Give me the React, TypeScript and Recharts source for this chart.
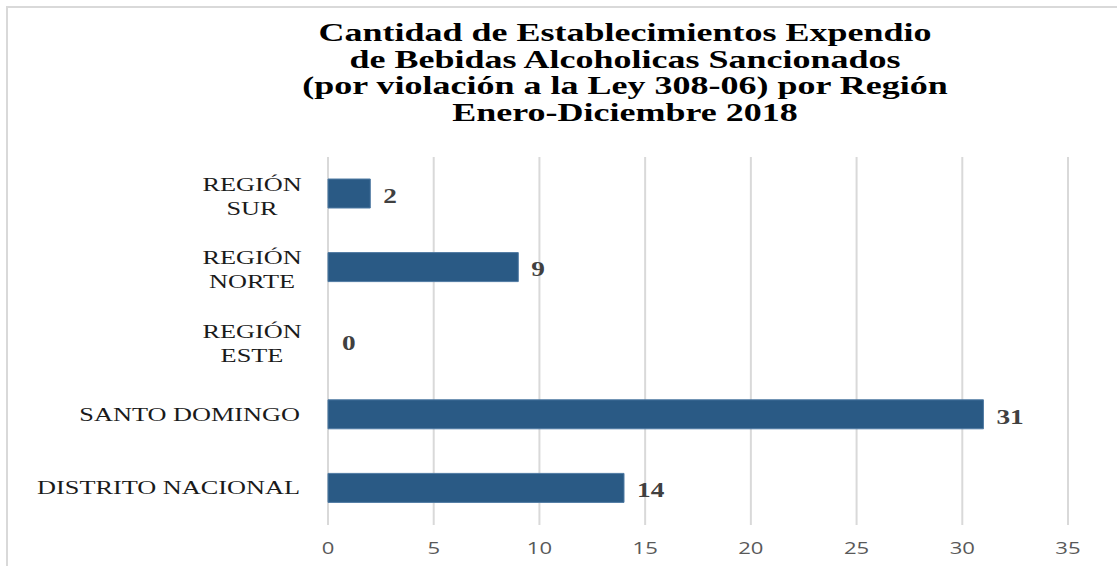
import React from "react";
import { BarChart, Bar, XAxis, YAxis, CartesianGrid, Rectangle } from "recharts";

// the source image is stretched horizontally, so text gets a scaleX too
const SX_TITLE = 1.44;
const SX_CAT = 1.46;
const SX_NUM = 1.3;

const regions = [
  ["REGIÓN", "SUR"],
  ["REGIÓN", "NORTE"],
  ["REGIÓN", "ESTE"],
  ["SANTO DOMINGO"],
  ["DISTRITO NACIONAL"],
];
const sanctioned = [2, 9, 0, 31, 14];
const xTicks = [0, 5, 10, 15, 20, 25, 30, 35];
const titleLines = [
  "Cantidad de Establecimientos Expendio",
  "de Bebidas Alcoholicas Sancionados",
  "(por violación a la Ley 308-06) por Región",
  "Enero-Diciembre 2018",
];

const data = regions.map((lines, i) => ({
  name: lines.join(" "),
  lines,
  value: sanctioned[i],
}));

const W = 1117;
const H = 566;

function CategoryTick(props: any) {
  const { x, y, index } = props;
  const lines: string[] = data[index]?.lines ?? [String(props.payload.value)];
  const right = x - 20;
  if (lines.length === 1) {
    return (
      <text
        transform={`translate(${right},${y}) scale(${SX_CAT},1)`}
        textAnchor="end"
        dominantBaseline="central"
        fontFamily="'Liberation Serif', serif"
        fontSize={18}
        fill="#1a1a1a"
      >
        {lines[0]}
      </text>
    );
  }
  // wrapped labels are centred on the widest line
  const cx = right - 48;
  return (
    <g>
      {lines.map((l, i) => (
        <text
          key={i}
          transform={`translate(${cx},${y + 3 + (i - 0.5) * 24}) scale(${SX_CAT},1)`}
          textAnchor="middle"
          dominantBaseline="central"
          fontFamily="'Liberation Serif', serif"
          fontSize={18}
          fill="#1a1a1a"
        >
          {l}
        </text>
      ))}
    </g>
  );
}

function ValueTick(props: any) {
  const { x, y, payload } = props;
  return (
    <text
      transform={`translate(${x},${y + 15}) scale(${SX_NUM},1)`}
      textAnchor="middle"
      dominantBaseline="central"
      fontFamily="'Open Sans', sans-serif"
      fontSize={17}
      fill="#595959"
    >
      {payload.value}
    </text>
  );
}

function ValueLabel(props: any) {
  const { x, y, width, height, value } = props;
  const lx = x + width + 13;
  const ly = y + height / 2 + 2;
  return (
    <text
      transform={`translate(${lx},${ly}) scale(${SX_NUM},1)`}
      textAnchor="start"
      dominantBaseline="central"
      fontFamily="'Liberation Serif', serif"
      fontWeight="bold"
      fontSize={21}
      fill="#404040"
    >
      {value}
    </text>
  );
}

// zero bars still get a 1px slot (minPointSize) so the "0" label shows, but draw nothing
function BarShape(props: any) {
  if (!props.value) return <g />;
  return <Rectangle {...props} />;
}

export default function App() {
  if (typeof document !== "undefined") document.body.style.margin = "0";
  return (
    <div style={{ position: "relative", width: W, height: H, overflow: "hidden", background: "#fff" }}>
      <div
        style={{
          position: "absolute",
          left: 6,
          top: 6,
          width: W + 50,
          height: H + 50,
          border: "2px solid #d9d9d9",
        }}
      />
      <svg width={W} height={140} style={{ position: "absolute", left: 0, top: 0 }}>
        {titleLines.map((t, i) => (
          <text
            key={i}
            transform={`translate(625,${41 + i * 26.5}) scale(${SX_TITLE},1)`}
            textAnchor="middle"
            fontFamily="'Liberation Serif', serif"
            fontWeight="bold"
            fontSize={25}
            fill="#000"
          >
            {t}
          </text>
        ))}
      </svg>
      <div style={{ position: "absolute", left: 0, top: 0 }}>
        <BarChart
          width={W}
          height={H}
          data={data}
          layout="vertical"
          margin={{ top: 157, right: 49, bottom: 0, left: 0 }}
          barCategoryGap="30%"
        >
          <CartesianGrid horizontal={false} stroke="#d9d9d9" strokeWidth={2} />
          <XAxis
            type="number"
            domain={[0, 35]}
            ticks={xTicks}
            axisLine={false}
            tickLine={false}
            height={41}
            tick={<ValueTick />}
            interval={0}
          />
          <YAxis
            type="category"
            dataKey="name"
            width={328}
            axisLine={false}
            tickLine={false}
            tick={<CategoryTick />}
            interval={0}
          />
          <Bar
            dataKey="value"
            fill="#2a5a85"
            stroke="#4f7aa3"
            strokeWidth={1}
            barSize={29}
            minPointSize={1}
            shape={<BarShape />}
            isAnimationActive={false}
            label={<ValueLabel />}
          />
        </BarChart>
      </div>
    </div>
  );
}
